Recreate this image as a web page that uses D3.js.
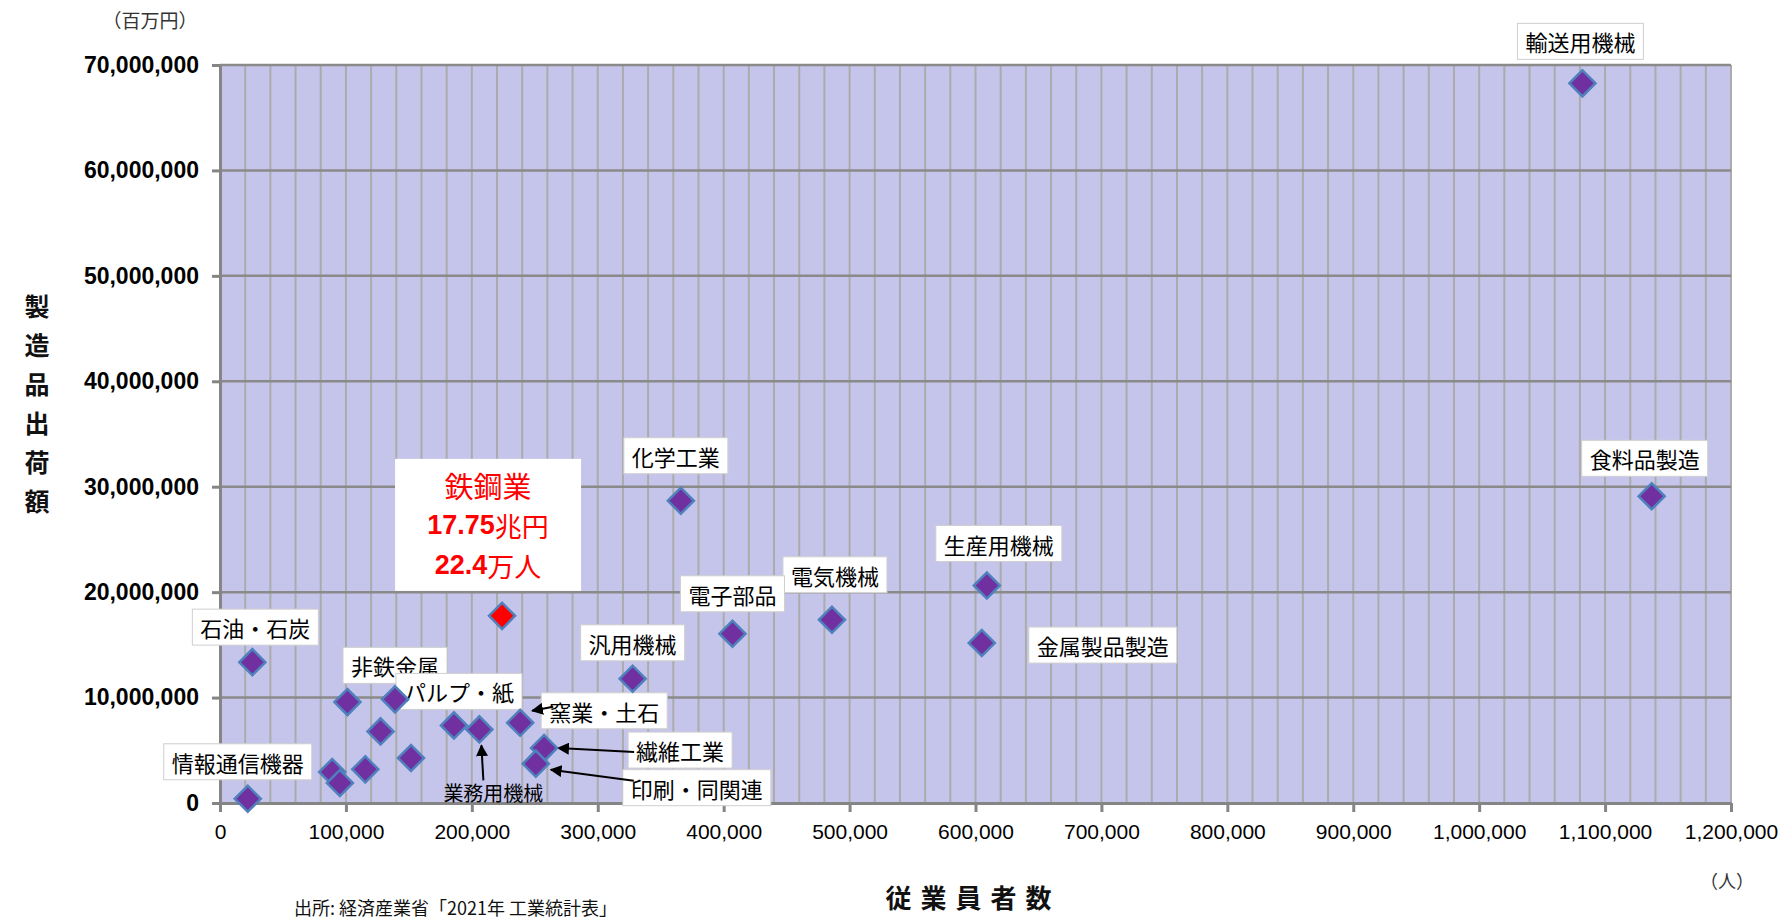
<!DOCTYPE html>
<html lang="ja">
<head>
<meta charset="utf-8">
<script src="https://cdn.jsdelivr.net/npm/d3@7"></script>
<style>
  html, body { margin: 0; padding: 0; background: #ffffff; }
  svg { display: block; }
  .jp { font-family: "Noto Sans CJK JP", "Noto Sans", sans-serif; }
</style>
</head>
<body>
<svg id="chart" width="1785" height="920"></svg>
<script>
// Industry names ("" = unlabelled industry)
const industries = [
  "輸送用機械", "食料品製造", "化学工業", "鉄鋼業", "生産用機械", "電気機械",
  "電子部品", "金属製品製造", "汎用機械", "石油・石炭", "非鉄金属", "パルプ・紙",
  "業務用機械", "窯業・土石", "繊維工業", "印刷・同関連", "情報通信機器",
  "", "", "", "", "", ""
];
// Number of employees (persons)
const employees = [
  1082000, 1137000, 366000, 224000, 609000, 486000,
  407000, 605000, 327700, 25700, 139000, 185800,
  206000, 238400, 257400, 250800, 22050,
  89100, 95200, 101200, 115400, 127500, 151700
];
// Value of manufactured goods shipped (million yen)
const shipments = [
  68260000, 29090000, 28670000, 17750000, 20630000, 17380000,
  16050000, 15170000, 11780000, 13360000, 9830000, 7360000,
  6980000, 7610000, 5210000, 3730000, 400000,
  2940000, 1900000, 9570000, 3190000, 6790000, 4270000
];
const xTicks = [0, 100000, 200000, 300000, 400000, 500000, 600000,
                700000, 800000, 900000, 1000000, 1100000, 1200000];
const yTicks = [0, 10000000, 20000000, 30000000, 40000000, 50000000, 60000000, 70000000];
const highlight = "鉄鋼業";
const highlightLines = [["鉄鋼業"], ["17.75", "兆円"], ["22.4", "万人"]];

// Label placement: offset of the label centre from its point, in pixels
const boxedLabels = {
  "輸送用機械": [-2, -42], "食料品製造": [-7, -38], "化学工業": [-5, -45],
  "生産用機械": [12, -42], "電気機械": [3, -45], "電子部品": [0, -40],
  "金属製品製造": [121, 2], "汎用機械": [0, -36], "石油・石炭": [3, -35],
  "非鉄金属": [0, -34], "パルプ・紙": [5, -34], "情報通信機器": [-10, -37],
  "窯業・土石": [84, -12], "繊維工業": [136, 2], "印刷・同関連": [161, 24]
};
// Labels joined to their point by an arrow (offsets from the point, in pixels)
const arrowLabels = {
  "業務用機械": { text: [14, 63], from: [4, 51], to: [2, 16] },
  "窯業・土石": { from: [33, -16], to: [12, -12] },
  "繊維工業": { from: [90, 4], to: [14, 0] },
  "印刷・同関連": { from: [98, 17], to: [15, 6] }
};

const svg = d3.select("#chart");
const x = d3.scaleLinear().domain([0, 1200000]).range([220, 1731]);
const y = d3.scaleLinear().domain([0, 70000000]).range([803, 65]);

// plot background
svg.append("rect")
  .attr("x", x(0)).attr("y", y(70000000))
  .attr("width", x(1200000) - x(0)).attr("height", y(0) - y(70000000))
  .attr("fill", "#c5c5eb");

// vertical grid every 20,000 persons
svg.append("g").selectAll("line")
  .data(d3.range(20000, 1200001, 20000))
  .join("line")
  .attr("x1", d => x(d)).attr("x2", d => x(d))
  .attr("y1", y(70000000)).attr("y2", y(0))
  .attr("stroke", "#ababab").attr("stroke-width", 2);

// horizontal grid every 10,000,000
svg.append("g").selectAll("line")
  .data(yTicks.slice(1))
  .join("line")
  .attr("x1", x(0)).attr("x2", x(1200000))
  .attr("y1", d => y(d)).attr("y2", d => y(d))
  .attr("stroke", "#8a8a8a").attr("stroke-width", 2.5);

// axes
const fmt = d3.format(",");
const yAxis = svg.append("g")
  .attr("transform", `translate(${x(0)},0)`)
  .call(d3.axisLeft(y).tickValues(yTicks).tickFormat(fmt).tickSize(8).tickSizeOuter(0).tickPadding(13));
yAxis.select(".domain").attr("stroke", "#858585").attr("stroke-width", 3);
yAxis.selectAll(".tick line").attr("stroke", "#858585").attr("stroke-width", 3);
yAxis.selectAll(".tick text")
  .attr("font-family", "'Liberation Sans', Arial, sans-serif")
  .attr("font-weight", "bold").attr("font-size", 23).attr("fill", "#000");

const xAxis = svg.append("g")
  .attr("transform", `translate(0,${y(0)})`)
  .call(d3.axisBottom(x).tickValues(xTicks).tickFormat(fmt).tickSize(9).tickSizeOuter(0).tickPadding(12));
xAxis.select(".domain").attr("stroke", "#858585").attr("stroke-width", 3);
xAxis.selectAll(".tick line").attr("stroke", "#858585").attr("stroke-width", 3);
xAxis.selectAll(".tick text")
  .attr("font-family", "'Liberation Sans', Arial, sans-serif")
  .attr("font-size", 21).attr("fill", "#000");

const data = industries.map((name, i) => ({ name, emp: employees[i], ship: shipments[i] }));
const byName = Object.fromEntries(data.map(d => [d.name, d]));

// boxed labels
const labelLayer = svg.append("g").attr("class", "jp");
Object.entries(boxedLabels).forEach(([name, [dx, dy]]) => {
  const d = byName[name];
  const cx = x(d.emp) + dx, cy = y(d.ship) + dy;
  const g = labelLayer.append("g");
  const t = g.append("text")
    .attr("x", cx).attr("y", cy)
    .attr("text-anchor", "middle").attr("dominant-baseline", "central")
    .attr("font-size", 22).attr("fill", "#000").text(name);
  const w = t.node().getComputedTextLength() + 16;
  g.insert("rect", "text")
    .attr("x", cx - w / 2).attr("y", cy - 18)
    .attr("width", w).attr("height", 36)
    .attr("fill", "#fff").attr("stroke", "#cfcfcf").attr("stroke-width", 1);
});

// highlighted industry callout
{
  const d = byName[highlight];
  const cx = x(d.emp) - 14, cy = y(d.ship) - 91;
  const g = svg.append("g");
  g.append("rect").attr("x", cx - 93).attr("y", cy - 66)
    .attr("width", 186).attr("height", 132).attr("fill", "#fff");
  highlightLines.forEach((parts, i) => {
    const t = g.append("text")
      .attr("x", cx).attr("y", cy + (i - 1) * 40)
      .attr("text-anchor", "middle").attr("dominant-baseline", "central")
      .attr("fill", "#ff0000").attr("font-size", i === 0 ? 29 : 27);
    parts.forEach(p => {
      const isNum = /^[0-9.]+$/.test(p);
      t.append("tspan").text(p)
        .attr("font-family", isNum ? "'Liberation Sans', Arial, sans-serif" : "'Noto Sans CJK JP', sans-serif")
        .attr("font-weight", isNum ? "bold" : "normal");
    });
  });
}

// arrows
svg.append("defs").append("marker")
  .attr("id", "arrowhead").attr("viewBox", "0 0 10 10")
  .attr("refX", 9).attr("refY", 5)
  .attr("markerWidth", 6).attr("markerHeight", 6)
  .attr("markerUnits", "strokeWidth").attr("orient", "auto")
  .append("path").attr("d", "M0,0 L10,5 L0,10 z").attr("fill", "#000");

Object.entries(arrowLabels).forEach(([name, a]) => {
  const d = byName[name];
  const px = x(d.emp), py = y(d.ship);
  svg.append("line")
    .attr("x1", px + a.from[0]).attr("y1", py + a.from[1])
    .attr("x2", px + a.to[0]).attr("y2", py + a.to[1])
    .attr("stroke", "#000").attr("stroke-width", 2)
    .attr("marker-end", "url(#arrowhead)");
  if (a.text) {
    svg.append("text").attr("class", "jp")
      .attr("x", px + a.text[0]).attr("y", py + a.text[1])
      .attr("text-anchor", "middle").attr("dominant-baseline", "central")
      .attr("font-size", 20).attr("fill", "#000").text(name);
  }
});

// points
const diamond = d3.symbol().type(d3.symbolSquare).size(340);
svg.append("g").selectAll("path")
  .data(data)
  .join("path")
  .attr("d", diamond)
  .attr("transform", d => `translate(${x(d.emp)},${y(d.ship)}) rotate(45)`)
  .attr("fill", d => d.name === highlight ? "#ff0000" : "#7030a0")
  .attr("stroke", "#4f81bd").attr("stroke-width", 2.5);

// axis titles and notes
svg.append("text").attr("class", "jp")
  .attr("x", 150).attr("y", 19)
  .attr("text-anchor", "middle").attr("dominant-baseline", "central")
  .attr("font-size", 19).attr("fill", "#333").text("（百万円）");

const yTitle = svg.append("text").attr("class", "jp")
  .attr("font-size", 25).attr("font-weight", "bold").attr("fill", "#111")
  .attr("text-anchor", "middle");
Array.from("製造品出荷額").forEach((ch, i) => {
  yTitle.append("tspan").attr("x", 37).attr("y", 305 + i * 39)
    .attr("dominant-baseline", "central").text(ch);
});

svg.append("text").attr("class", "jp")
  .attr("x", 973).attr("y", 896)
  .attr("text-anchor", "middle").attr("dominant-baseline", "central")
  .attr("font-size", 26).attr("font-weight", "bold").attr("fill", "#111")
  .attr("letter-spacing", 9).text("従業員者数");

svg.append("text").attr("class", "jp")
  .attr("x", 1727).attr("y", 880)
  .attr("text-anchor", "middle").attr("dominant-baseline", "central")
  .attr("font-size", 18).attr("fill", "#333").text("（人）");

svg.append("text").attr("class", "jp")
  .attr("x", 294).attr("y", 907)
  .attr("dominant-baseline", "central")
  .attr("font-size", 18).attr("fill", "#111").text("出所: 経済産業省「2021年 工業統計表」");
</script>
</body>
</html>
